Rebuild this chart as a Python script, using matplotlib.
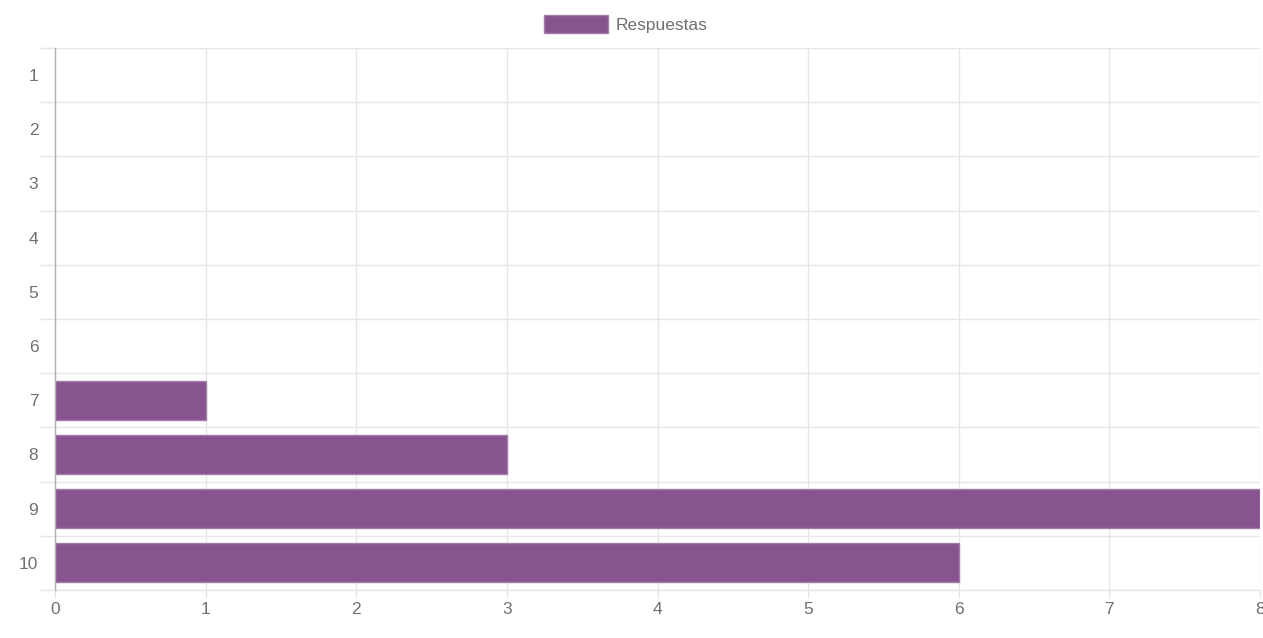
import matplotlib
matplotlib.use("Agg")
import matplotlib.pyplot as plt
from matplotlib.patches import Patch

plt.rcParams['font.family'] = ['Liberation Sans', 'DejaVu Sans']

categorias = ['1', '2', '3', '4', '5', '6', '7', '8', '9', '10']
respuestas = [0, 0, 0, 0, 0, 0, 1, 3, 8, 6]
xticks = [0, 1, 2, 3, 4, 5, 6, 7, 8]

bar_color = '#87548f'
edge_color = '#a57cab'
grid_color = '#e6e6e6'
text_color = '#707070'

fig = plt.figure(figsize=(12.63, 6.38), dpi=100)
ax = fig.add_axes([55 / 1263, 1 - 590 / 638, 1205 / 1263, 542 / 638])

pos = list(range(len(categorias)))
# no edge on empty bars, otherwise a line shows at zero
widths = [1 if v > 0 else 0 for v in respuestas]
ax.barh(pos, respuestas, height=0.72, color=bar_color, edgecolor=edge_color,
        linewidth=widths, zorder=3)

ax.set_ylim(len(categorias) - 0.5, -0.5)
ax.set_xlim(0, 8)

ax.set_yticks(pos)
ax.set_yticklabels(categorias)
ax.set_yticks([p - 0.5 for p in pos] + [len(pos) - 0.5], minor=True)
ax.set_xticks(xticks)
ax.set_xticklabels([str(x) for x in xticks])

ax.grid(True, axis='x', which='major', color=grid_color, linewidth=1, zorder=0)
ax.grid(True, axis='y', which='minor', color=grid_color, linewidth=1, zorder=0)

ax.tick_params(axis='y', which='major', length=0, pad=12, labelsize=12.5,
               labelcolor=text_color)
ax.tick_params(axis='y', which='minor', length=11, color=grid_color, width=1)
ax.tick_params(axis='x', which='major', length=6, color=grid_color, width=1,
               pad=3, labelsize=12.5, labelcolor=text_color)

for s in ['top', 'right']:
    ax.spines[s].set_visible(False)
ax.spines['bottom'].set_color(grid_color)
ax.spines['bottom'].set_linewidth(1)
ax.spines['left'].set_color('#b0b0b0')
ax.spines['left'].set_linewidth(1)
ax.spines['left'].set_zorder(4)

handle = Patch(facecolor=bar_color, edgecolor=edge_color, linewidth=1)
leg = fig.legend([handle], ['Respuestas'], loc='center',
                 bbox_to_anchor=(626 / 1263, 1 - 24 / 638), frameon=False,
                 handlelength=3.7, handleheight=1.25, handletextpad=0.45,
                 fontsize=12.5, labelcolor=text_color)

fig.savefig('out.png', dpi=100, facecolor='white')
